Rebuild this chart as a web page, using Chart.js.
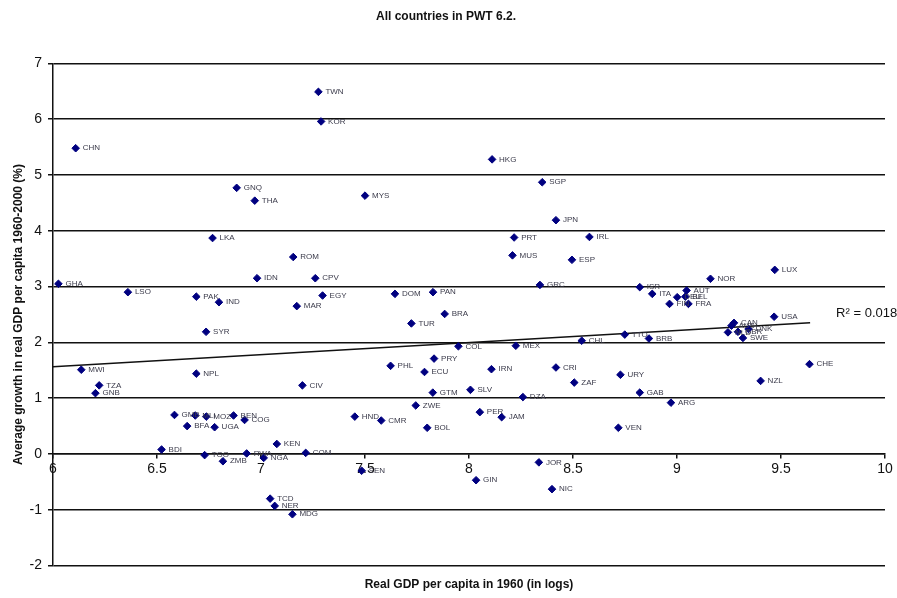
<!DOCTYPE html>
<html lang="en">
  <head>
    <meta charset="UTF-8" />
    <title>All countries in PWT 6.2.</title>
    <script src="https://cdn.jsdelivr.net/npm/chart.js"></script>
    <style>
      body { margin: 0; background: #fff; }
      #wrap { width: 897px; height: 598px; }
    </style>
  </head>
  <body>
    <div id="wrap"><canvas id="pwtChart" width="897" height="598"></canvas></div>

    <script>
      // Country codes, log GDP per capita 1960 and growth 1960-2000
      const countries = [
        "TWN", "KOR", "HKG", "SGP", "MYS", "JPN", "PRT", "IRL", "CHN", "GNQ",
        "THA", "LKA", "ESP", "MUS", "ROM", "CPV", "IDN", "GRC", "LUX", "NOR",
        "ISR", "ITA", "AUT", "DEU", "BEL", "FIN", "FRA", "USA", "CAN", "AUS",
        "NLD", "GBR", "DNK", "SWE", "TTO", "BRB", "CHL", "CHE", "URY", "NZL",
        "GAB", "ARG", "VEN", "ZAF", "CRI", "IRN", "MEX", "COL", "PRY", "PHL",
        "ECU", "CIV", "GTM", "SLV", "DZA", "ZWE", "HND", "CMR", "BOL", "PER",
        "JAM", "DOM", "PAN", "EGY", "MAR", "BRA", "TUR", "GHA", "LSO", "PAK",
        "IND", "SYR", "MWI", "NPL", "TZA", "GNB", "GMB", "MLI", "MOZ", "BEN",
        "COG", "BFA", "UGA", "BDI", "TGO", "ZMB", "RWA", "NGA", "KEN", "COM",
        "SEN", "TCD", "NER", "MDG", "JOR", "GIN", "NIC",
      ];
      const gdp1960 = [
        7.276, 7.289, 8.111, 8.352, 7.5, 8.418, 8.217, 8.579, 6.109, 6.883,
        6.97, 6.767, 8.495, 8.209, 7.155, 7.261, 6.981, 8.341, 9.47, 9.161,
        8.821, 8.881, 9.046, 9.001, 9.04, 8.964, 9.055, 9.467, 9.274, 9.262,
        9.245, 9.293, 9.344, 9.317, 8.749, 8.865, 8.542, 9.637, 8.728, 9.402,
        8.821, 8.971, 8.718, 8.506, 8.418, 8.108, 8.225, 7.949, 7.832, 7.623,
        7.786, 7.199, 7.826, 8.007, 8.259, 7.744, 7.451, 7.578, 7.799, 8.052,
        8.157, 7.644, 7.827, 7.296, 7.172, 7.883, 7.723, 6.026, 6.36, 6.689,
        6.798, 6.736, 6.136, 6.689, 6.222, 6.204, 6.584, 6.684, 6.737, 6.868,
        6.921, 6.645, 6.777, 6.522, 6.729, 6.817, 6.931, 7.013, 7.076, 7.215,
        7.484, 7.044, 7.066, 7.151, 8.336, 8.034, 8.399,
      ];
      const growth = [
        6.49, 5.96, 5.28, 4.87, 4.63, 4.19, 3.88, 3.89, 5.48, 4.77,
        4.54, 3.87, 3.48, 3.56, 3.53, 3.15, 3.15, 3.03, 3.3, 3.14,
        2.99, 2.87, 2.93, 2.81, 2.82, 2.69, 2.69, 2.46, 2.35, 2.3,
        2.18, 2.19, 2.24, 2.08, 2.14, 2.07, 2.03, 1.61, 1.42, 1.31,
        1.1, 0.92, 0.47, 1.28, 1.55, 1.52, 1.94, 1.93, 1.71, 1.58,
        1.47, 1.23, 1.1, 1.15, 1.02, 0.87, 0.67, 0.6, 0.47, 0.75,
        0.66, 2.87, 2.9, 2.84, 2.65, 2.51, 2.34, 3.05, 2.9, 2.82,
        2.72, 2.19, 1.51, 1.44, 1.23, 1.09, 0.7, 0.69, 0.67, 0.69,
        0.61, 0.5, 0.48, 0.08, -0.02, -0.13, 0.01, -0.07, 0.18, 0.02,
        -0.3, -0.8, -0.93, -1.08, -0.15, -0.47, -0.63,
      ];

      // Linear trend line end points
      const trendX = [6, 9.64];
      const trendY = [1.565, 2.35];
      const rSquared = "R\u00b2 = 0.0183";

      const font = 'Arial, "Liberation Sans", sans-serif';

      // Small country labels to the right of every point + R² text
      const labelPlugin = {
        id: "countryLabels",
        afterDatasetsDraw(chart) {
          const ctx = chart.ctx;
          const meta = chart.getDatasetMeta(0);
          ctx.save();
          ctx.font = "8px " + font;
          ctx.fillStyle = "#3a3a4a";
          ctx.textBaseline = "middle";
          ctx.textAlign = "left";
          meta.data.forEach((pt, i) => {
            ctx.fillText(countries[i], pt.x + 7, pt.y);
          });

          // R² next to the right end of the trend line
          const end = chart.getDatasetMeta(1).data[1];
          ctx.font = "13px " + font;
          ctx.fillStyle = "#111";
          ctx.fillText(rSquared, end.x + 26, end.y - 9);
          ctx.restore();
        },
      };

      const points = gdp1960.map((x, i) => ({ x: x, y: growth[i] }));
      const trend = trendX.map((x, i) => ({ x: x, y: trendY[i] }));

      const ctx1 = document.getElementById("pwtChart").getContext("2d");
      const pwtChart = new Chart(ctx1, {
        type: "scatter",
        data: {
          datasets: [
            {
              label: "Countries",
              data: points,
              pointStyle: "rectRot",
              pointRadius: 3.8,
              backgroundColor: "#000080",
              borderColor: "#000080",
              borderWidth: 1,
            },
            {
              label: "Trend",
              data: trend,
              showLine: true,
              pointRadius: 0,
              borderColor: "#111",
              borderWidth: 1.5,
            },
          ],
        },
        options: {
          responsive: false,
          animation: false,
          layout: {
            padding: { left: 7, right: 12, top: 0, bottom: 0 },
          },
          plugins: {
            legend: { display: false },
            tooltip: { enabled: false },
            title: {
              display: true,
              text: "All countries in PWT 6.2.",
              color: "#111",
              font: { family: font, size: 12, weight: "bold" },
              padding: { top: 9, bottom: 40 },
            },
            subtitle: {
              display: true,
              position: "bottom",
              fullSize: false,
              text: "Real GDP per capita in 1960 (in logs)",
              color: "#111",
              font: { family: font, size: 12, weight: "bold" },
              padding: { top: 12, bottom: 6 },
            },
          },
          scales: {
            x: {
              type: "linear",
              position: { y: 0 },
              min: 6,
              max: 10,
              ticks: {
                stepSize: 0.5,
                color: "#111",
                padding: 3,
                font: { family: font, size: 14 },
                callback: (value) => String(value),
              },
              grid: {
                drawOnChartArea: false,
                drawTicks: true,
                tickLength: 4,
                color: "#111",
                lineWidth: 1.5,
              },
              border: { display: true, color: "#111", width: 1.5 },
            },
            y: {
              min: -2,
              max: 7,
              afterFit(scale) {
                scale.width = 46;
              },
              ticks: {
                stepSize: 1,
                color: "#111",
                padding: 6,
                font: { family: font, size: 14 },
              },
              grid: {
                color: "#111",
                lineWidth: 1.5,
                tickLength: 5,
              },
              border: { display: true, color: "#111", width: 1.5 },
              title: {
                display: true,
                text: "Average growth in real GDP per capita 1960-2000 (%)",
                color: "#111",
                font: { family: font, size: 12, weight: "bold" },
              },
            },
          },
        },
        plugins: [labelPlugin],
      });
    </script>
  </body>
</html>
